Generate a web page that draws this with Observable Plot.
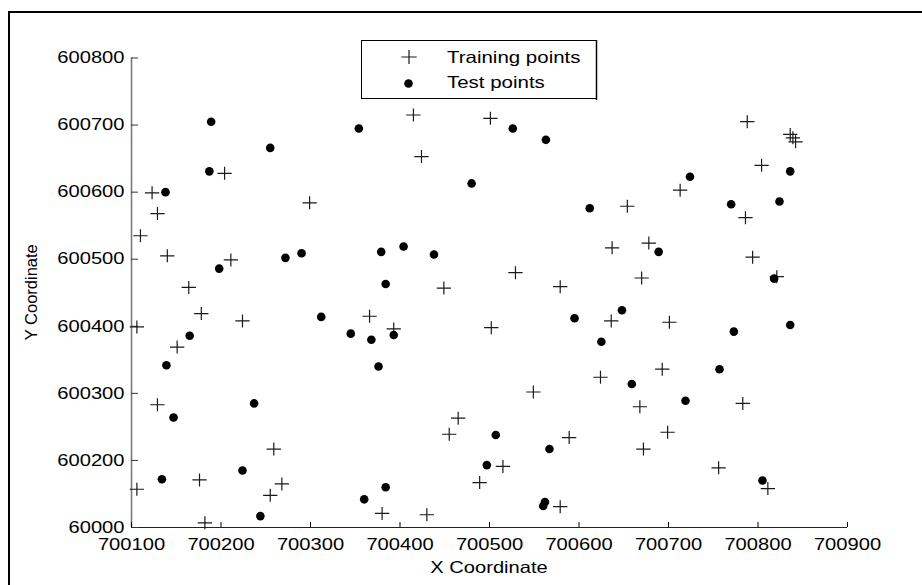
<!DOCTYPE html>
<html><head><meta charset="utf-8">
<script src="https://cdn.jsdelivr.net/npm/d3@7"></script>
<script src="https://cdn.jsdelivr.net/npm/@observablehq/plot@0.6"></script>
<style>
body{margin:0;background:#fff;}
#wrap{position:relative;width:922px;height:585px;overflow:hidden;font-family:"Liberation Sans",Arial,sans-serif;}
#border{position:absolute;left:8px;top:11px;width:1000px;height:1000px;border-left:2px solid #000;border-top:2px solid #000;}
#chart{position:absolute;left:0;top:0;}
#legend{position:absolute;left:361px;top:40px;}
</style></head><body>
<div id="wrap"><div id="border"></div><div id="chart"></div><div id="legend"></div></div>
<script>
const seriesNames = ["Training points", "Test points"];
const xTitle = "X Coordinate";
const yTitle = "Y Coordinate";
const xTicks = [700100,700200,700300,700400,700500,700600,700700,700800,700900];
const xTickLabels = ["700100","700200","700300","700400","700500","700600","700700","700800","700900"];
const yTicks = [600100,600200,600300,600400,600500,600600,600700,600800];
const yTickLabels = ["60000","600200","600300","600400","600500","600600","600700","600800"];

const trainX = [700123,700129,700110,700140,700204,700211,700299,700164,700415,700501,700424,700654,700637,700678,700529,700579,700670,700449,700788,700836,700839,700842,700804,700713,700786,700794,700821,700178,700224,700106,700366,700151,700393,700129,700259,700106,700176,700268,700255,700182,700380,700502,700636,700624,700549,700668,700465,700455,700589,700672,700515,700489,700579,700430,700701,700693,700783,700699,700756,700811];
const trainY = [600599,600568,600535,600505,600628,600499,600584,600458,600715,600710,600653,600579,600517,600524,600480,600459,600472,600457,600705,600686,600681,600675,600640,600603,600562,600503,600474,600419,600408,600399,600415,600369,600396,600283,600217,600157,600171,600165,600148,600107,600121,600398,600408,600324,600302,600280,600263,600239,600234,600217,600191,600167,600131,600119,600406,600336,600285,600242,600189,600158];
const testX = [700189,700255,700354,700187,700138,700198,700272,700290,700379,700384,700526,700563,700480,700612,700404,700438,700836,700724,700770,700824,700689,700818,700312,700165,700345,700368,700393,700139,700376,700147,700237,700134,700224,700244,700384,700360,700595,700648,700625,700659,700507,700567,700497,700562,700560,700836,700773,700757,700719,700805];
const testY = [600705,600666,600695,600631,600600,600486,600502,600509,600511,600463,600695,600678,600613,600576,600519,600507,600631,600623,600582,600586,600511,600471,600414,600386,600389,600380,600387,600342,600340,600264,600285,600172,600185,600117,600160,600142,600412,600424,600377,600314,600238,600217,600193,600138,600132,600402,600392,600336,600289,600170];

const train = trainX.map((x, i) => ({x, y: trainY[i]}));
const test = testX.map((x, i) => ({x, y: testY[i]}));

const plusSymbol = {
  draw(ctx, size) {
    const r = Math.sqrt(size / Math.PI);
    ctx.moveTo(-r * 1.1, 0); ctx.lineTo(r * 1.1, 0);
    ctx.moveTo(0, -r); ctx.lineTo(0, r);
  }
};

const FS = 16.5;
const chart = Plot.plot({
  width: 922, height: 585,
  marginLeft: 131, marginRight: 75, marginTop: 57.5, marginBottom: 58,
  style: {fontFamily: "Liberation Sans, Arial, sans-serif", fontSize: FS + "px", background: "transparent", color: "#000"},
  x: {domain: [xTicks[0], xTicks[xTicks.length - 1]]},
  y: {domain: [yTicks[0], yTicks[yTicks.length - 1]]},
  marks: [
    Plot.ruleY([yTicks[0]], {stroke: "#222", strokeWidth: 1.2}),
    Plot.ruleX([xTicks[0]], {stroke: "#7a7a7a", strokeWidth: 1.6}),
    Plot.axisX({ticks: xTicks, tickSize: -5, tickFormat: () => "", label: null, stroke: "#000"}),
    Plot.axisY({ticks: yTicks, tickSize: -7, tickFormat: () => "", label: null, stroke: "#333"}),
    Plot.axisX({ticks: xTicks, tickSize: 0, tickPadding: 11, tickFormat: d => xTickLabels[xTicks.indexOf(d)], label: null, fill: "#000"}),
    Plot.axisY({ticks: yTicks, tickSize: 0, tickPadding: 7, tickFormat: d => yTickLabels[yTicks.indexOf(d)], label: null, fill: "#000"}),
    Plot.dot(train, {x: "x", y: "y", symbol: plusSymbol, r: 6.5, fill: "none", stroke: "#1a1a1a", strokeWidth: 1.2}),
    Plot.dot(test, {x: "x", y: "y", r: 4.3, fill: "#000", stroke: null})
  ]
});
document.getElementById("chart").appendChild(chart);

const svg = d3.select(chart);
const sx = chart.scale("x"), sy = chart.scale("y");
const midX = (sx.range[0] + sx.range[1]) / 2;
const midY = (sy.range[0] + sy.range[1]) / 2;
svg.append("text").attr("class", "title-x").attr("x", midX).attr("y", 573)
  .attr("text-anchor", "middle").attr("font-size", FS).attr("fill", "#000").text(xTitle);
svg.append("text").attr("class", "title-y").attr("transform", `translate(37,${midY}) rotate(-90)`)
  .attr("text-anchor", "middle").attr("font-size", FS).attr("fill", "#000").text(yTitle);

// horizontal stretch of the lettering, as in the reference image
function stretch(nodes, k) {
  nodes.forEach(t => {
    const s = t.textContent;
    if (!s) return;
    const L = t.getComputedTextLength();
    t.setAttribute("textLength", (L * k).toFixed(1));
    t.setAttribute("lengthAdjust", "spacingAndGlyphs");
  });
}
stretch(Array.from(chart.querySelectorAll("g[aria-label$='axis tick label'] text, text.title-x")), 1.22);

// legend
const L = d3.select("#legend").append("svg").attr("width", 238).attr("height", 60)
  .style("font-family", "Liberation Sans, Arial, sans-serif");
L.append("rect").attr("x", 0.5).attr("y", 0.5).attr("width", 235).attr("height", 58)
  .attr("fill", "#fff").attr("stroke", "#000").attr("stroke-width", 1);
L.append("line").attr("x1", 235.5).attr("x2", 235.5).attr("y1", 0).attr("y2", 60).attr("stroke", "#000").attr("stroke-width", 1.5);
const lg = L.append("g");
lg.append("path").attr("d", "M40.3,17H55.7M48,10V24").attr("stroke", "#1a1a1a").attr("stroke-width", 1.2).attr("fill", "none");
lg.append("circle").attr("cx", 47.5).attr("cy", 43.5).attr("r", 4.3).attr("fill", "#000");
const lt = seriesNames.map((n, i) => L.append("text").attr("x", 86).attr("y", 22.5 + i * 25)
  .attr("font-size", FS).attr("fill", "#000").text(n).node());
stretch(lt, 1.24);
</script>
</body></html>
